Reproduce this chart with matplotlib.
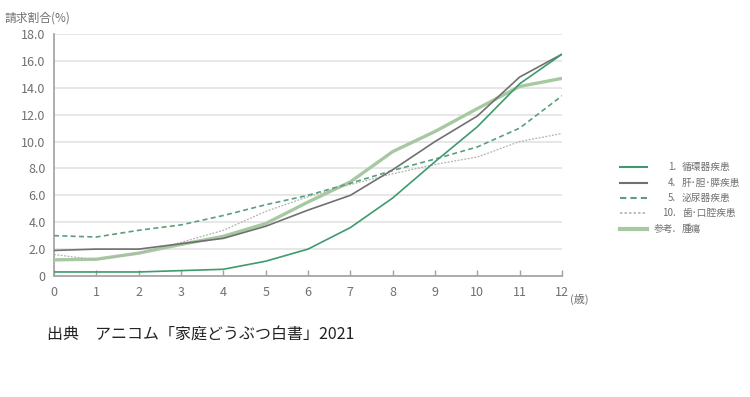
import numpy as np
import matplotlib
matplotlib.use('Agg')
import matplotlib.pyplot as plt
from matplotlib.lines import Line2D

plt.rcParams['font.family'] = ['Noto Sans CJK JP', 'DejaVu Sans']

ages = list(range(13))
circulatory = [0.3, 0.3, 0.3, 0.4, 0.5, 1.1, 2.0, 3.6, 5.8, 8.5, 11.1, 14.3, 16.5]
liver = [1.9, 2.0, 2.0, 2.4, 2.8, 3.7, 4.9, 6.0, 7.9, 10.0, 11.9, 14.8, 16.5]
urinary = [3.0, 2.9, 3.4, 3.8, 4.5, 5.3, 6.0, 6.9, 7.85, 8.7, 9.6, 11.0, 13.4]
dental = [1.6, 1.2, 1.7, 2.5, 3.4, 4.8, 5.9, 6.8, 7.6, 8.3, 8.85, 10.0, 10.6]
tumor = [1.2, 1.25, 1.7, 2.35, 2.95, 3.9, 5.5, 7.0, 9.25, 10.75, 12.45, 14.1, 14.7]

prefixes = ['1.', '4.', '5.', '10.', '参考.']
names = ['循環器疾患', '肝･胆･膵疾患', '泌尿器疾患', '歯･口腔疾患', '腫瘍']
series = [circulatory, liver, urinary, dental, tumor]
styles = [
    dict(color='#3f9a6e', lw=1.2, ls='-'),
    dict(color='#707070', lw=1.2, ls='-'),
    dict(color='#5c9f7a', lw=1.2, ls=(0, (3, 2))),
    dict(color='#b2b2b2', lw=0.9, ls=(0, (1.5, 1.2))),
    dict(color='#a7c9a1', lw=2.4, ls='-'),
]
order = [4, 3, 2, 1, 0]

fig = plt.figure(figsize=(7.5, 3.97), dpi=100)
ax = fig.add_axes([54 / 750, 1 - 276 / 397, 508 / 750, 242 / 397])

for i in order:
    ax.plot(ages, series[i], **styles[i], solid_capstyle='butt', zorder=3 + (4 - i))

ax.set_xlim(0, 12)
ax.set_ylim(0, 18)
yt = np.arange(0, 19, 2)
ax.set_yticks(yt)
ax.set_yticklabels(['0'] + [f'{v:.1f}' for v in yt[1:]])
ax.set_xticks(ages)
ax.set_xticklabels([str(a) for a in ages])
ax.yaxis.grid(True, color='#e3e3e3', lw=1.2)
ax.set_axisbelow(True)
for s in ['top', 'right']:
    ax.spines[s].set_visible(False)
for s in ['left', 'bottom']:
    ax.spines[s].set_color('#a0a0a0')
    ax.spines[s].set_linewidth(1.2)
ax.tick_params(axis='y', length=0, pad=6, labelsize=9, labelcolor='#707070')
ax.tick_params(axis='x', direction='in', length=4, width=1, color='#a0a0a0',
               pad=7, labelsize=9, labelcolor='#707070')

ax.annotate('(歳)', xy=(12, 0), xycoords='data', xytext=(6, -17),
            textcoords='offset points', ha='left', va='center',
            fontsize=8, color='#707070')

fig.text(5 / 750, 1 - 18 / 397, '請求割合(%)', fontsize=8.5, color='#707070',
         ha='left', va='center')

# legend drawn by hand
rows_y = [167, 183, 198, 213, 229]
for i in range(5):
    y = 1 - rows_y[i] / 397
    st = styles[i]
    fig.add_artist(Line2D([620 / 750, 647 / 750], [y, y], color=st['color'],
                          lw=st['lw'] + (0.6 if i == 4 else 0.3), ls=st['ls'],
                          transform=fig.transFigure))
    fig.text(676 / 750, y, prefixes[i], fontsize=7, color='#707070', ha='right', va='center')
    fig.text(682 / 750, y, names[i], fontsize=7, color='#707070', ha='left', va='center')

fig.text(47 / 750, 1 - 334 / 397, '出典　アニコム「家庭どうぶつ白書」2021',
         fontsize=11.5, color='#222222', ha='left', va='center')

fig.savefig('out.png', dpi=100, facecolor='white')
